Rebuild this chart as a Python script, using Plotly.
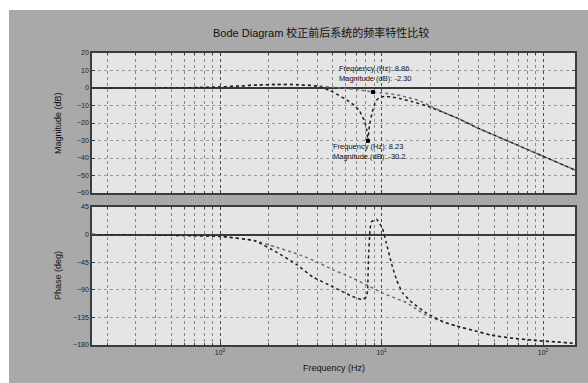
import plotly.graph_objects as go
from plotly.subplots import make_subplots
import math

# ---- data (Hz, dB, deg) ----
# loop without notch
freq_mag_a = [0.161, 0.3, 0.5, 0.8, 1.0, 1.3, 1.7, 2.2, 3.0, 4.0, 5.0, 6.0, 7.0, 8.0, 8.86,
              10.0, 11.5, 13.5, 17.2, 19.8, 25, 30, 38.6, 50, 70, 100, 150, 158]
mag_a = [0, 0, 0.1, 0.3, 0.6, 1.1, 1.7, 2.0, 1.9, 1.2, 0.4, -0.3, -0.9, -1.6, -2.3,
         -2.8, -3.4, -4.6, -7.3, -10.0, -14.5, -17.5, -22.5, -27, -32.8, -39, -46, -47]

freq_ph_a = [0.161, 0.3, 0.6, 1.0, 1.64, 2.2, 3.12, 4.0, 4.98, 6.5, 8.08, 10.1, 12, 14.3,
             16.5, 19.8, 24, 29, 38, 48, 65, 86, 120, 151, 158]
ph_a = [0, -0.5, -1.5, -3, -10, -20, -33, -45, -57, -70, -82, -95, -103, -111,
        -122, -134, -142, -149, -157, -164, -169, -172, -175, -177, -177]

# loop with notch
freq_mag_b = [0.161, 0.3, 0.5, 0.8, 1.0, 1.3, 1.7, 2.2, 3.0, 4.0, 4.8, 5.9, 6.8, 7.3, 7.85,
              8.1, 8.23, 8.4, 8.7, 9.0, 9.3, 9.7, 10.5, 11.7, 12.9, 15.5, 19.0, 25, 30,
              38.6, 50, 70, 100, 150, 158]
mag_b = [0, 0, 0.1, 0.3, 0.6, 1.1, 1.7, 2.0, 1.9, 1.0, -1.5, -6, -10, -13, -19,
         -24, -30.2, -22, -15, -10, -7, -5.5, -4.8, -5.2, -6, -7.8, -10.2, -14.5, -17.5,
         -22.5, -27, -32.8, -39, -46, -47]

freq_ph_b = [0.161, 0.3, 0.6, 1.0, 1.64, 2.25, 2.99, 3.75, 4.98, 6.62, 7.63, 8.08, 8.2, 8.3,
             8.5, 8.67, 9.31, 10.1, 10.7, 11.5, 12.4, 13.5, 15.5, 19.0, 24, 29, 38, 48,
             65, 86, 120, 151, 158]
ph_b = [0, -0.5, -1.5, -3, -10, -29, -49, -69, -85, -101, -106, -101, -90, -40,
        10, 21, 25, 11, -13, -46, -74, -95, -111, -128, -142, -149, -157, -164,
        -169, -172, -175, -177, -177]

# data tips
tip_freq = [8.86, 8.23]
tip_mag = [-2.3, -30.2]

mag_ticks = [20, 10, 0, -10, -20, -30, -40, -50, -60]
phase_ticks = [45, 0, -45, -90, -135, -180]
freq_ticks = [1, 10, 100]
freq_ticktext = ["10<sup>0</sup>", "10<sup>1</sup>", "10<sup>2</sup>"]

title_text = "Bode Diagram 校正前后系统的频率特性比较"

# ---- figure ----
W, H = 588, 383
L, R, T, B = 92, 13, 53, 38
plot_h = H - T - B

fig = make_subplots(rows=2, cols=1, shared_xaxes=True)

color_a = "#6e6e6e"
color_b = "#1e1e1e"

fig.add_trace(go.Scatter(x=freq_mag_a, y=mag_a, mode="lines",
                         line=dict(color=color_a, dash="dot", width=1.5, shape="spline", smoothing=0.6),
                         showlegend=False), row=1, col=1)
fig.add_trace(go.Scatter(x=freq_mag_b, y=mag_b, mode="lines",
                         line=dict(color=color_b, dash="dot", width=1.5, shape="spline", smoothing=0.4),
                         showlegend=False), row=1, col=1)
fig.add_trace(go.Scatter(x=freq_ph_a, y=ph_a, mode="lines",
                         line=dict(color=color_a, dash="dot", width=1.5, shape="spline", smoothing=0.6),
                         showlegend=False), row=2, col=1)
fig.add_trace(go.Scatter(x=freq_ph_b, y=ph_b, mode="lines",
                         line=dict(color=color_b, dash="dot", width=1.5, shape="spline", smoothing=0.4),
                         showlegend=False), row=2, col=1)

# data tip markers
fig.add_trace(go.Scatter(x=tip_freq, y=tip_mag, mode="markers",
                         marker=dict(symbol="square", size=4, color="#000000"),
                         showlegend=False), row=1, col=1)

tip_text = [
    f"Frequency (Hz): {tip_freq[0]:.2f}<br>Magnitude (dB): {tip_mag[0]:.2f}",
    f"Frequency (Hz): {tip_freq[1]:.2f}<br>Magnitude (dB): {tip_mag[1]:.1f}",
]
tip_shift = [(-36, 19), (-37, -11)]
for f, m, txt, (dx, dy) in zip(tip_freq, tip_mag, tip_text, tip_shift):
    fig.add_annotation(x=math.log10(f), y=m, xref="x", yref="y", text=txt,
                       showarrow=False, xanchor="left", yanchor="middle", align="left",
                       xshift=dx, yshift=dy,
                       font=dict(size=7.5, color="#111111", family="Arial"))

# minor log grid positions
minor_vals = [k * 10 ** d for d in range(-1, 3) for k in range(2, 10)]

top_lo = (H - B - 193) / plot_h
bot_hi = (H - B - 207) / plot_h

axis_common = dict(showline=True, mirror="ticks", linecolor="#3c3c3c", linewidth=1.5,
                   ticks="inside", ticklen=3, tickcolor="#3c3c3c",
                   tickfont=dict(size=7, color="#222222", family="Arial"))

xcommon = dict(type="log", range=[-0.7926, 2.198], tickmode="array",
               tickvals=freq_ticks, ticktext=freq_ticktext,
               showgrid=True, gridcolor="#4a4a4a", griddash="dot", gridwidth=1,
               minor=dict(tickvals=minor_vals, ticks="inside", ticklen=2,
                          tickcolor="#3c3c3c", showgrid=True,
                          gridcolor="#8a8a8a", griddash="dot", gridwidth=1),
               **axis_common)

fig.update_xaxes(showticklabels=False, row=1, col=1, **xcommon)
fig.update_xaxes(showticklabels=True, row=2, col=1, **xcommon)

fig.update_yaxes(row=1, col=1, range=[-60, 20], tickmode="array", tickvals=mag_ticks,
                 showgrid=True, gridcolor="#9a9a9a", griddash="dot",
                 zeroline=True, zerolinecolor="#3a3a3a", zerolinewidth=1.5,
                 domain=[top_lo, 1], **axis_common)
fig.update_yaxes(row=2, col=1, range=[-180, 45], tickmode="array", tickvals=phase_ticks,
                 showgrid=True, gridcolor="#9a9a9a", griddash="dot",
                 zeroline=True, zerolinecolor="#3a3a3a", zerolinewidth=1.5,
                 domain=[0, bot_hi], **axis_common)

# axis titles and figure title
fig.add_annotation(xref="paper", yref="paper", x=(58 - L) / (W - L - R),
                   y=(H - B - 123) / plot_h, text="Magnitude (dB)", textangle=-90,
                   showarrow=False, xanchor="center", yanchor="middle",
                   font=dict(size=9, color="#111111", family="Arial"))
fig.add_annotation(xref="paper", yref="paper", x=(58 - L) / (W - L - R),
                   y=(H - B - 276) / plot_h, text="Phase (deg)", textangle=-90,
                   showarrow=False, xanchor="center", yanchor="middle",
                   font=dict(size=9, color="#111111", family="Arial"))
fig.add_annotation(xref="paper", yref="paper", x=0.5,
                   y=(H - B - 368) / plot_h, text="Frequency (Hz)",
                   showarrow=False, xanchor="center", yanchor="middle",
                   font=dict(size=9, color="#111111", family="Arial"))
fig.add_annotation(xref="paper", yref="paper", x=(321 - L) / (W - L - R),
                   y=(H - B - 33) / plot_h, text=title_text,
                   showarrow=False, xanchor="center", yanchor="middle",
                   font=dict(size=11, color="#111111", family="Arial, Noto Sans CJK SC"))

# white page strips around the grey figure window
pw = W - L - R
fig.add_shape(type="rect", xref="paper", yref="paper", layer="below",
              x0=-L / pw, x1=(W - L) / pw, y0=(H - B - 10) / plot_h, y1=(H - B + 5) / plot_h,
              fillcolor="white", line=dict(width=0))
fig.add_shape(type="rect", xref="paper", yref="paper", layer="below",
              x0=-L / pw - 0.05, x1=(9 - L) / pw, y0=-B / plot_h - 0.1, y1=(H - B + 5) / plot_h,
              fillcolor="white", line=dict(width=0))

fig.update_layout(width=W, height=H, margin=dict(l=L, r=R, t=T, b=B),
                  paper_bgcolor="#a9a9a9", plot_bgcolor="#e5e5e5",
                  showlegend=False)

fig.write_html("out.html")
